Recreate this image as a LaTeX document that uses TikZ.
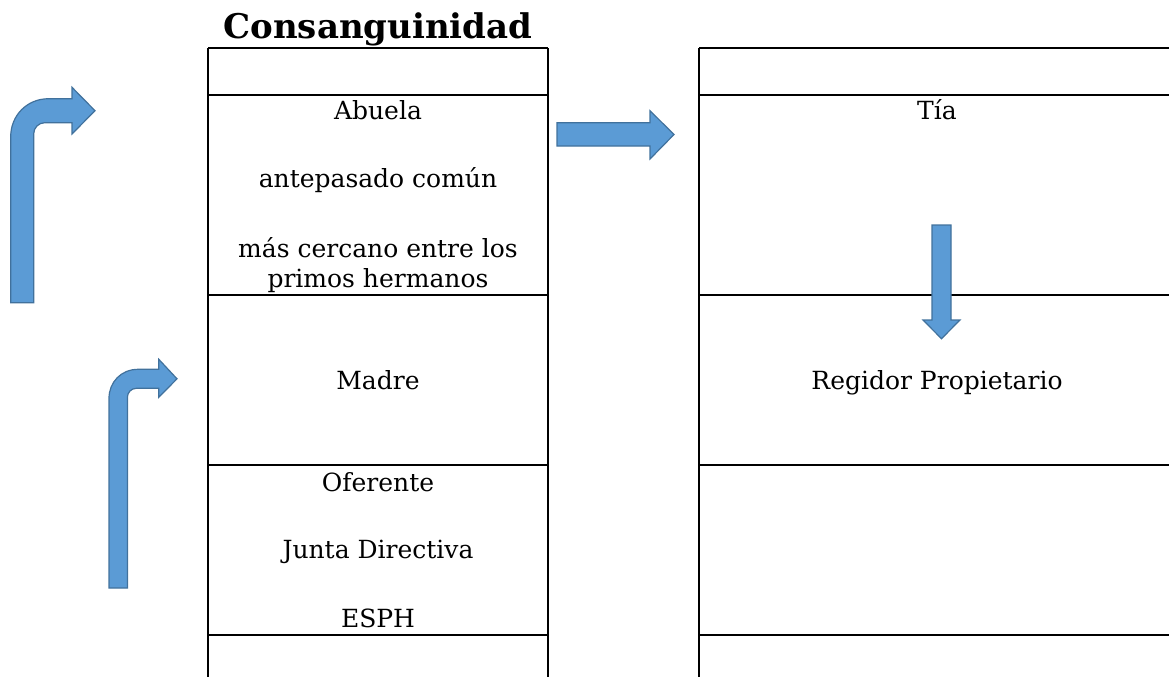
\documentclass[tikz,border=0pt]{standalone}
\usepackage{fontspec}
\setmainfont{DejaVu Serif}
\definecolor{azul}{HTML}{5B9BD5}
\definecolor{azulborde}{HTML}{41719C}
\tikzset{
    texto/.style={anchor=base, inner sep=0pt, align=center, font=\fontsize{12.5}{15}\selectfont},
    titulo/.style={anchor=base, inner sep=0pt, font=\fontsize{17}{20}\selectfont\bfseries},
    flecha/.style={fill=azul, draw=azulborde, line width=0.6pt, line join=miter},
    linea/.style={line width=1.1pt}
}
\newcommand{\filas}{48, 95, 295, 465, 635}

\begin{document}
\begin{tikzpicture}[x=0.5pt, y=-0.5pt]
        \useasboundingbox (0,0) rectangle (1169,677);
        % Draw table rows
        \foreach \y in \filas{
            \draw[linea] (208,\y) -- (548,\y);
            \draw[linea] (699,\y) -- (1169,\y);
        }
        % Draw table sides
        \foreach \x in {208, 548, 699}{
            \draw[linea] (\x,48) -- (\x,677);
        }
        % Draw texts
        \node[titulo] (consanguinidad) at (378,38) {Consanguinidad};
        \node[texto] (abuela) at (378,119) {Abuela};
        \node[texto] (comun) at (378,187) {antepasado común};
        \node[texto] (cercano) at (378,287) {más cercano entre los\\primos hermanos};
        \node[texto] (madre) at (378,389) {Madre};
        \node[texto] (oferente) at (378,491) {Oferente};
        \node[texto] (junta) at (378,558) {Junta Directiva};
        \node[texto] (esph) at (378,627) {ESPH};
        \node[texto] (tia) at (937,119) {Tía};
        \node[texto] (regidor) at (937,389) {Regidor Propietario};
        % Draw arrows
        \draw[flecha] (10.7,302.7) -- (10.7,136.7)
            .. controls (10.7,115.7) and (26.7,98.7) .. (48.7,98.7)
            -- (72,98.7) -- (72,87.3) -- (95,110.7) -- (72,134) -- (72,122.7)
            -- (44.7,122.7) .. controls (38.7,122.7) and (33.7,127.7) .. (33.7,133.7)
            -- (33.7,302.7) -- cycle;
        \draw[flecha] (109,588) -- (109,398.3)
            .. controls (109,382.3) and (121,369.3) .. (138,369.3)
            -- (158.8,369.3) -- (158.8,359.3) -- (177,378.8) -- (158.8,397.3) -- (158.8,388.3)
            -- (136.4,388.3) .. controls (131.4,388.3) and (127.4,392.3) .. (127.4,397.3)
            -- (127.4,588) -- cycle;
        \draw[flecha] (557,122.7) -- (650,122.7) -- (650,110.7) -- (674,134.5)
            -- (650,159) -- (650,146) -- (557,146) -- cycle;
        \draw[flecha] (932,225) -- (951,225) -- (951,320) -- (960,320)
            -- (941.5,338.7) -- (923,320) -- (932,320) -- cycle;
\end{tikzpicture}
\end{document}
